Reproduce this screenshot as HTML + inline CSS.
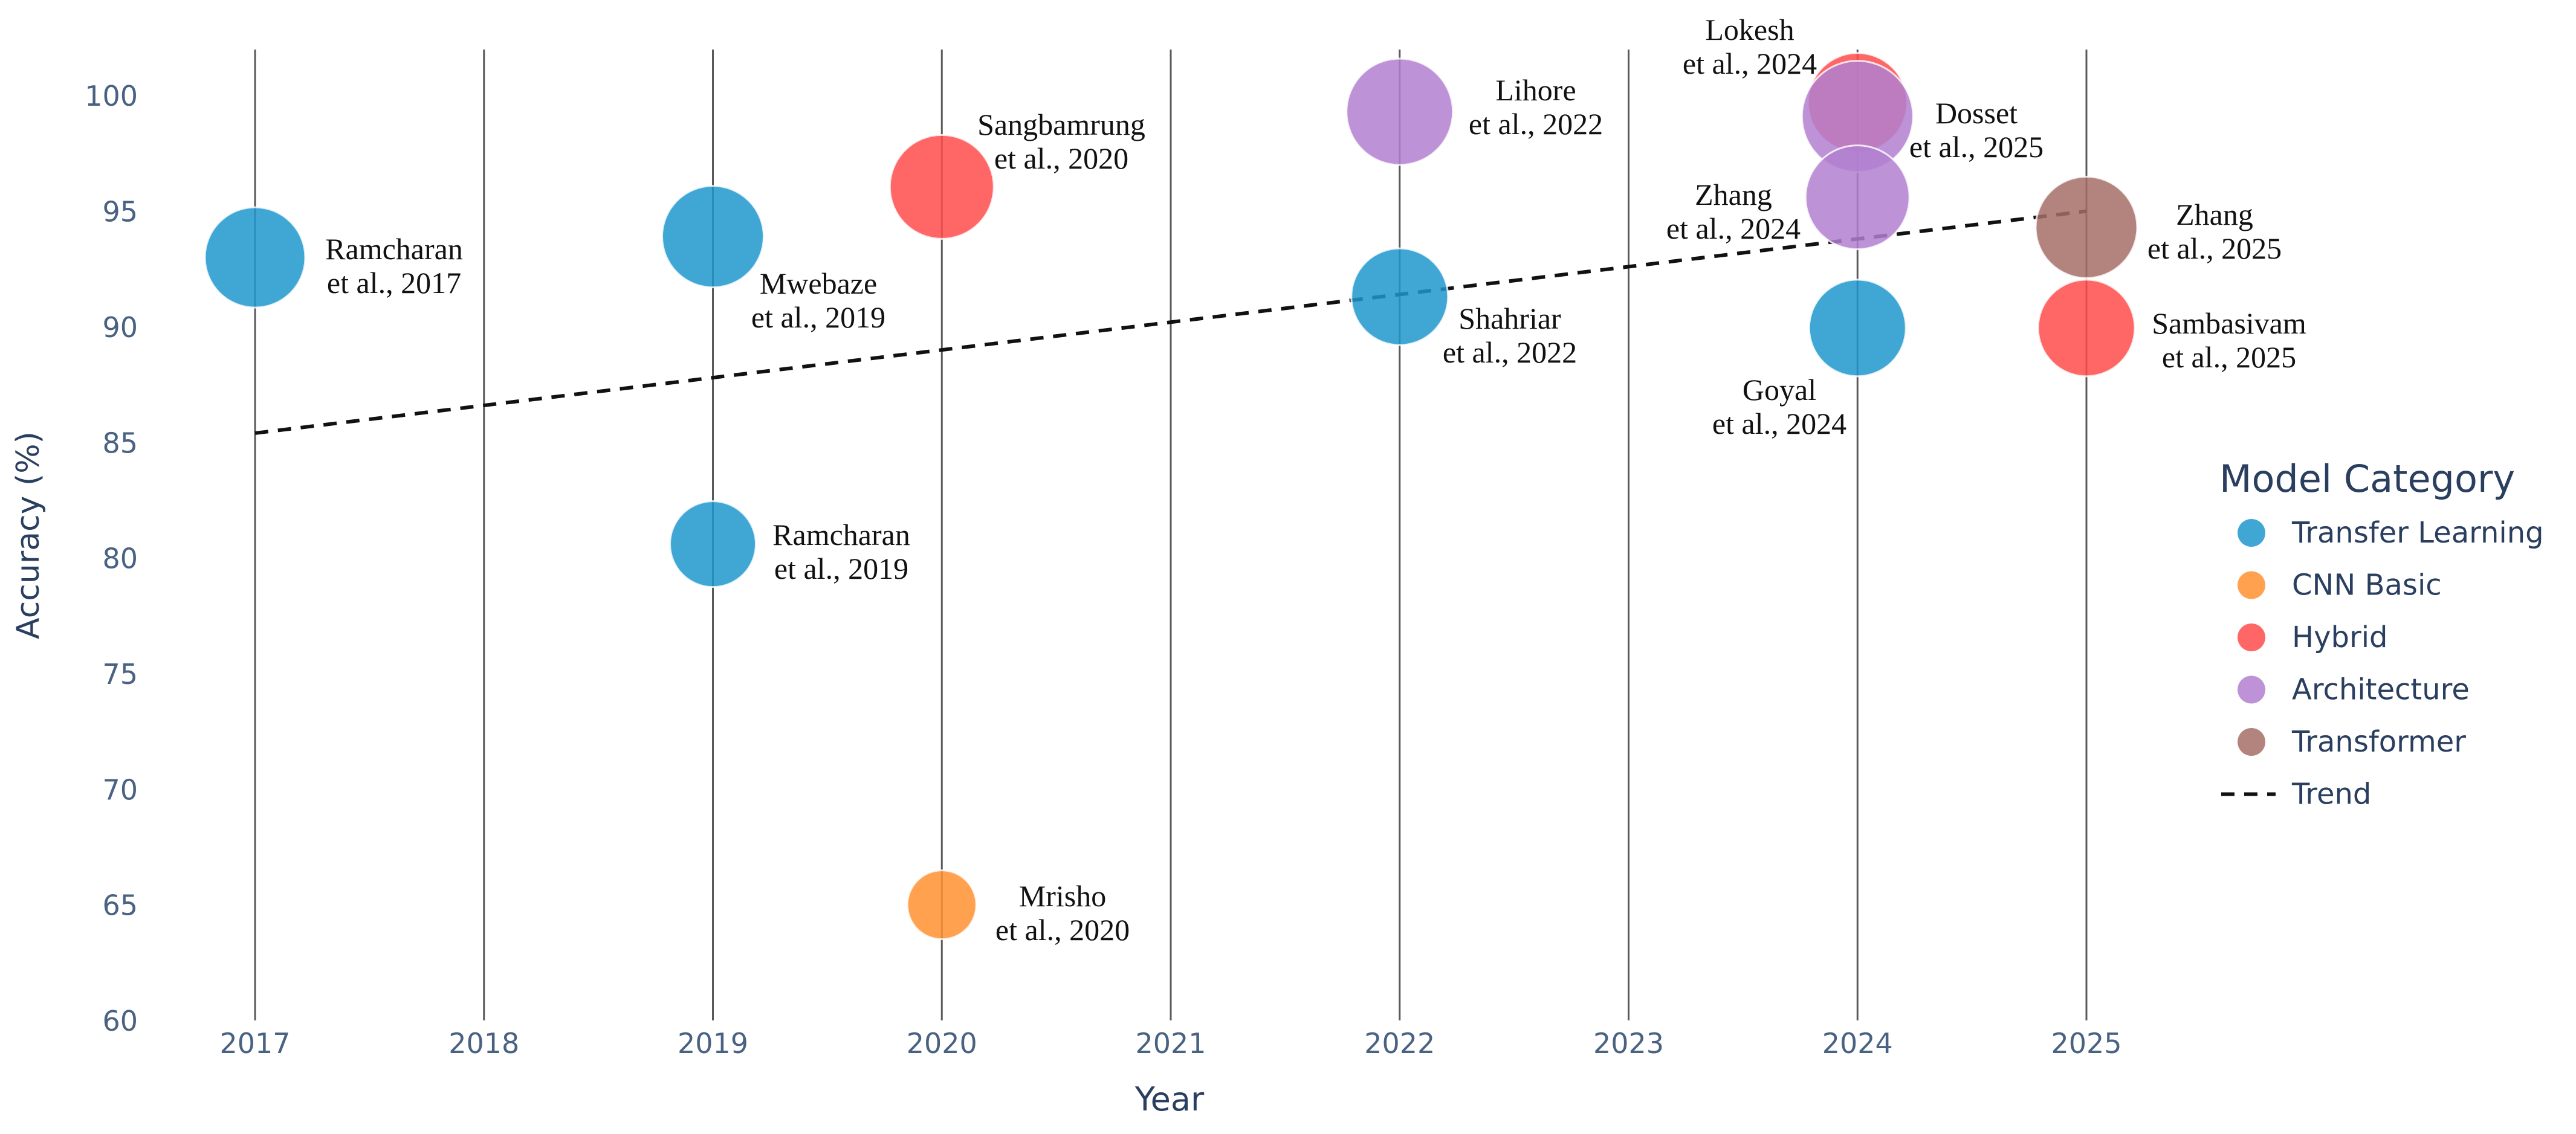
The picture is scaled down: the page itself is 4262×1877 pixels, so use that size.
<!DOCTYPE html>
<html><head><meta charset="utf-8"><style>
html,body{margin:0;padding:0;background:#fff;}
svg{display:block;}
</style></head><body>
<svg id="chart" width="4262" height="1877" viewBox="0 0 4262 1877" xmlns="http://www.w3.org/2000/svg">
<g id="grid"></g>
<g id="yticks"></g>
<g id="xticks"></g>
<g id="trend"></g>
<g id="bubbles"></g>
<g id="labels"></g>
<text x="1935" y="1838" text-anchor="middle" font-family="DejaVu Sans, sans-serif" font-size="54" fill="#2a3f5f">Year</text>
<text transform="translate(64,886) rotate(-90)" text-anchor="middle" font-family="DejaVu Sans, sans-serif" font-size="52" fill="#2a3f5f">Accuracy (%)</text>
<g id="legend">
<text x="3672" y="814" font-family="DejaVu Sans, sans-serif" font-size="62" fill="#2a3f5f">Model Category</text>
</g>
</svg>
<script>
const years = [2017,2019,2019,2020,2020,2022,2022,2024,2024,2024,2024,2025,2025];
const accuracy = [93.0,93.9,80.6,96.05,65.0,99.3,91.3,99.7,99.1,95.6,89.95,94.3,89.95];
const categories = ["Transfer Learning","Transfer Learning","Transfer Learning","Hybrid","CNN Basic","Architecture","Transfer Learning","Hybrid","Architecture","Architecture","Transfer Learning","Transformer","Hybrid"];
const bubbleSizes = [83,84,71,86,57,88,80,82,92,86,80,84,80];
const authors = ["Ramcharan","Mwebaze","Ramcharan","Sangbamrung","Mrisho","Lihore","Shahriar","Lokesh","Dosset","Zhang","Goyal","Zhang","Sambasivam"];
const citeYears = ["2017","2019","2019","2020","2020","2022","2022","2024","2025","2024","2024","2025","2025"];
const xTicks = [2017,2018,2019,2020,2021,2022,2023,2024,2025];
const yTicks = [60,65,70,75,80,85,90,95,100];
const trendYears = [2017,2025];
const trendValues = [85.4,95.0];
const legendNames = ["Transfer Learning","CNN Basic","Hybrid","Architecture","Transformer"];

const colors = {"Transfer Learning":"#1f97cc","CNN Basic":"#ff9130","Hybrid":"#ff4b4b","Architecture":"#b17fd0","Transformer":"#a66f66"};
const labelPos = [[652,413],[1354,470],[1392,886],[1756,207],[1758,1484],[2541,150],[2498,528],[2895,50],[3270,188],[2868,323],[2944,646],[3664,356],[3688,536]];

const X0=422, XSTEP=378.75, Y60=1689, YUNIT=38.27, YTOP=82;
function xs(v){return X0+(v-2017)*XSTEP;}
function ys(v){return Y60-(v-60)*YUNIT;}
const NS="http://www.w3.org/2000/svg";
function mk(tag,attrs,parent){const e=document.createElementNS(NS,tag);for(const k in attrs)e.setAttribute(k,attrs[k]);parent.appendChild(e);return e;}

const grid=document.getElementById('grid'), xt=document.getElementById('xticks'), yt=document.getElementById('yticks');
xTicks.forEach(t=>{
  const l=mk('line',{x1:xs(t),x2:xs(t),y1:YTOP,y2:ys(60),stroke:'#5a5a5a','stroke-width':3},grid);
  
  
  const tx=mk('text',{x:xs(t),y:1743,'text-anchor':'middle','font-family':'DejaVu Sans, sans-serif','font-size':46,fill:'#4a6282'},xt);
  tx.textContent=t;
  
  
});
yTicks.forEach(t=>{
  const tx=mk('text',{x:228,y:ys(t)+17,'text-anchor':'end','font-family':'DejaVu Sans, sans-serif','font-size':46,fill:'#4a6282'},yt);
  tx.textContent=t;
  
  
});

const bg=document.getElementById('bubbles');
years.forEach((yr,i)=>{
  const c=mk('circle',{cx:xs(yr),cy:ys(accuracy[i]),r:bubbleSizes[i],fill:colors[categories[i]],'fill-opacity':0.85,stroke:'#fff','stroke-width':3,'stroke-opacity':0.8},bg);
  
  
});

const tg=document.getElementById('trend');
const tl=mk('line',{x1:xs(trendYears[0]),y1:ys(trendValues[0]),x2:xs(trendYears[1]),y2:ys(trendValues[1]),stroke:'#111','stroke-width':6,'stroke-dasharray':'22 16'},tg);



const lg=document.getElementById('labels');
authors.forEach((a,i)=>{
  const [cx,cy]=labelPos[i];
  const t=mk('text',{x:cx,'text-anchor':'middle','font-family':'Liberation Serif, serif','font-size':50,fill:'#111'},lg);
  
  
  const s1=mk('tspan',{x:cx,y:cy+16},t); s1.textContent=a;
  const s2=mk('tspan',{x:cx,y:cy+72},t); s2.textContent='et al., '+citeYears[i];
});

const leg=document.getElementById('legend');
legendNames.forEach((n,i)=>{
  const y=898+i*86.5;
  const c=mk('circle',{cx:3725,cy:y-16,r:23,fill:colors[n],'fill-opacity':0.85},leg);
  
  
  const t=mk('text',{x:3792,y:y,'font-family':'DejaVu Sans, sans-serif','font-size':48,fill:'#2a3f5f'},leg);
  t.textContent=n;
  
  
});
const ty=898+5*86.5;
const tdl=mk('line',{x1:3675,x2:3765,y1:ty-16,y2:ty-16,stroke:'#111','stroke-width':6,'stroke-dasharray':'22 16'},leg);


const tt=mk('text',{x:3792,y:ty,'font-family':'DejaVu Sans, sans-serif','font-size':48,fill:'#2a3f5f'},leg);
tt.textContent='Trend';


</script>
</body></html>
